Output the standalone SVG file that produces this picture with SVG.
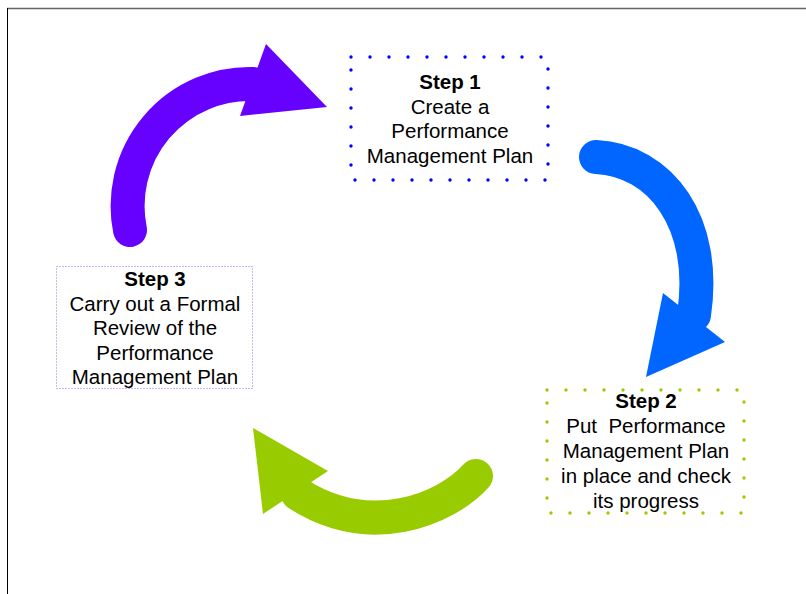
<svg xmlns="http://www.w3.org/2000/svg" width="806" height="594" viewBox="0 0 806 594">
<style>
.t{font-family:"Liberation Sans",Arial,sans-serif;font-size:20.5px;fill:#000;text-anchor:middle}
.b{font-weight:bold}
.arc{fill:none;stroke-width:34;stroke-linecap:round}
.dot{fill:none;stroke-width:3.4;stroke-dasharray:0 19;stroke-linecap:round}
</style>
<rect x="0" y="0" width="806" height="594" fill="#fff"/>
<line x1="7" y1="8.5" x2="806" y2="8.5" stroke="#666" stroke-width="1.5"/>
<line x1="7.5" y1="8" x2="7.5" y2="594" stroke="#000" stroke-width="1"/>
<g id="connectors">
  <g id="arrow-purple">
    <path class="arc" d="M130,230 A122,122 0 0 1 253,84" stroke="#6600ff"/>
    <polygon points="266,44 327,107 240,116" fill="#6600ff"/>
  </g>
  <g id="arrow-blue">
    <path class="arc" d="M596,157 C660,160 708,222 694,315" stroke="#0066ff" stroke-width="36"/>
    <polygon points="663,293 725,342 646,377" fill="#0066ff"/>
  </g>
  <g id="arrow-green">
    <path class="arc" d="M476,476 C445,510 370,540 298,494" stroke="#99cc00"/>
    <polygon points="253,428 328,471 263,514" fill="#99cc00"/>
  </g>
</g>
<g id="step1">
  <rect class="dot" x="351" y="57" width="197" height="123" stroke="#0000ff"/>
  <text class="t b" x="450" y="89">Step 1</text>
  <text class="t" x="450" y="113.5">Create a</text>
  <text class="t" x="450" y="138">Performance</text>
  <text class="t" x="450" y="162.5">Management Plan</text>
</g>
<g id="step2">
  <rect class="dot" x="547" y="390" width="197" height="123" stroke="#99cc00"/>
  <text class="t b" x="646" y="408">Step 2</text>
  <text class="t" x="646" y="433" style="white-space:pre" xml:space="preserve">Put  Performance</text>
  <text class="t" x="646" y="458">Management Plan</text>
  <text class="t" x="646" y="483">in place and check</text>
  <text class="t" x="646" y="508">its progress</text>
</g>
<g id="step3">
  <rect x="56.5" y="266.5" width="196" height="122" fill="none" stroke="#9966ff" stroke-width="1" stroke-dasharray="1 2"/>
  <text class="t b" x="155" y="286">Step 3</text>
  <text class="t" x="155" y="310.5">Carry out a Formal</text>
  <text class="t" x="155" y="335">Review of the</text>
  <text class="t" x="155" y="359.5">Performance</text>
  <text class="t" x="155" y="384">Management Plan</text>
</g>
</svg>
